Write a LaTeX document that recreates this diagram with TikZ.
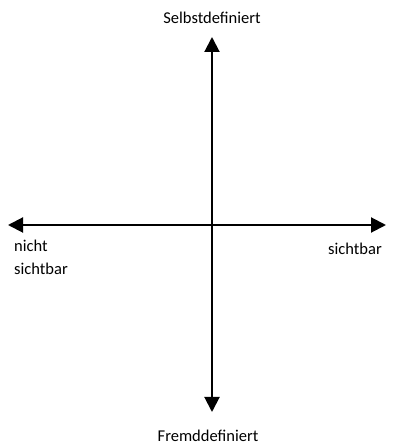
\documentclass[tikz,border=0pt]{standalone}
\usepackage{fontspec}
\setmainfont{Carlito}
\usetikzlibrary{arrows.meta,positioning}
\tikzset{
  axis/.style={line width=2pt, {Triangle[width=15pt,length=15pt]}-{Triangle[width=15pt,length=15pt]}},
  lbl/.style={font=\fontsize{16.5}{23}\selectfont, inner sep=0pt},
}

\begin{document}
\begin{tikzpicture}[x=1pt,y=1pt]
\useasboundingbox (0,0) rectangle (394,445);
\coordinate (top) at (212,408);
\coordinate (bottom) at (212,33);
\coordinate (left) at (8,220);
\coordinate (right) at (386,220);

\draw[axis] (bottom) -- (top);
\draw[axis] (left) -- (right);

\node[lbl] (selbst) at (212,427) {Selbstdefiniert};
\node[lbl] (fremd) at (208,9) {Fremddefiniert};
\node[lbl, align=left, anchor=north west] (nicht) at (14,205) {nicht\\sichtbar};
\node[lbl, anchor=north east] (sicht) at (382,202) {sichtbar};
\end{tikzpicture}
\end{document}
